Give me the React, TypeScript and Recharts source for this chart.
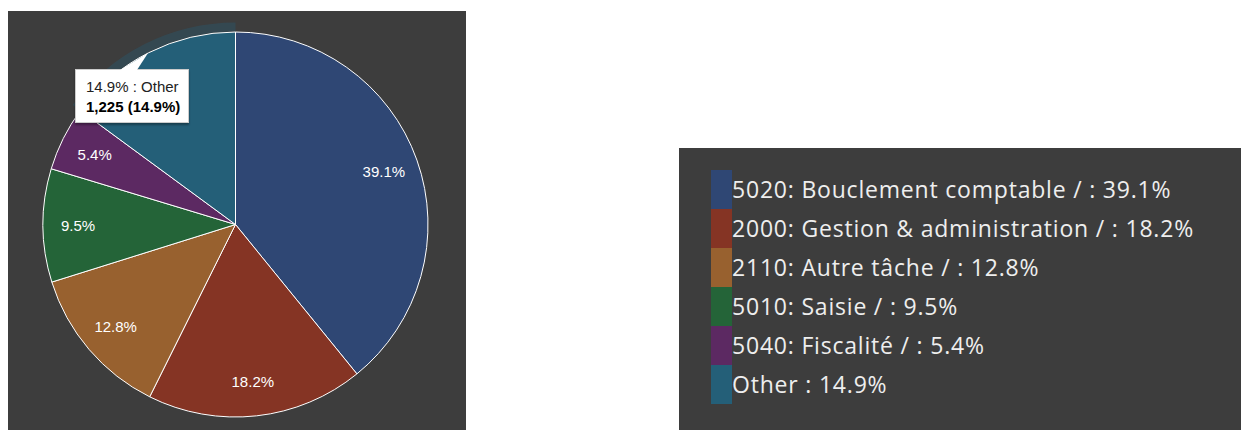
import React from "react";
import { PieChart, Pie, Cell, Legend, Tooltip } from "recharts";

const categories = [
  "5020: Bouclement comptable /",
  "2000: Gestion & administration /",
  "2110: Autre tâche /",
  "5010: Saisie /",
  "5040: Fiscalité /",
  "Other",
];
const shortNames = ["5020", "2000", "2110", "5010", "5040", "Other"];
const values = [3214, 1496, 1052, 781, 444, 1225];
const pctLabels = ["39.1%", "18.2%", "12.8%", "9.5%", "5.4%", "14.9%"];
const colors = ["#2F4774", "#853424", "#98612F", "#246438", "#5C2962", "#245F78"];
const hoveredIndex = 5;

const data = categories.map((name, i) => ({
  name,
  short: shortNames[i],
  value: values[i],
  pct: pctLabels[i],
}));

const RADIAN = Math.PI / 180;

const renderLabel = (props: any) => {
  const { cx, cy, midAngle, outerRadius, index } = props;
  const r = outerRadius * 0.818;
  const x = cx + r * Math.cos(-midAngle * RADIAN);
  const y = cy + r * Math.sin(-midAngle * RADIAN);
  return (
    <text
      x={x}
      y={y}
      fill="#ffffff"
      textAnchor="middle"
      dominantBaseline="central"
      fontFamily="'Liberation Sans', Arial, sans-serif"
      fontSize={15}
    >
      {pctLabels[index]}
    </text>
  );
};

const LegendContent = () => (
  <div style={{ padding: "22px 0 0 32px", boxSizing: "border-box" }}>
    {data.map((d, i) => (
      <div key={d.name} style={{ display: "flex", alignItems: "center", height: 39 }}>
        <div style={{ width: 21, height: 39, background: colors[i], flex: "none" }} />
        <span
          style={{
            fontFamily: "'Open Sans', sans-serif",
            fontSize: 23,
            letterSpacing: "0.8px",
            color: "#eeeeee",
            whiteSpace: "nowrap",
            lineHeight: "39px",
          }}
        >
          {d.name} : {d.pct}
        </span>
      </div>
    ))}
  </div>
);

const TooltipContent = (props: any) => {
  const { active, payload } = props;
  if (!active || !payload || !payload.length) return null;
  const p = payload[0].payload;
  return (
    <div style={{ position: "relative" }}>
      <svg
        width={40}
        height={18}
        style={{ position: "absolute", left: 44, top: -16, overflow: "visible" }}
      >
        <polygon points="1,17 18,17 29,0" fill="#ffffff" />
      </svg>
      <div
        style={{
          background: "#ffffff",
          border: "1px solid #cccccc",
          boxShadow: "0 2px 2px rgba(0,0,0,0.35)",
          width: 114,
          height: 54,
          padding: "7px 0 0 10px",
          boxSizing: "border-box",
          fontFamily: "'Liberation Sans', Arial, sans-serif",
          fontSize: 15,
          lineHeight: "20px",
          color: "#222222",
          whiteSpace: "nowrap",
        }}
      >
        <div>
          {p.pct} : {p.short}
        </div>
        <div style={{ fontWeight: "bold", color: "#000000" }}>
          {p.value.toLocaleString("en-US")} ({p.pct})
        </div>
      </div>
    </div>
  );
};

export default function App() {
  return (
    <div
      style={{
        position: "absolute",
        left: 0,
        top: 0,
        width: 1241,
        height: 430,
        background: "#ffffff",
        overflow: "hidden",
      }}
    >
      <div
        style={{
          position: "absolute",
          left: 8,
          top: 11,
          width: 458,
          height: 419,
          background: "#3D3D3D",
        }}
      />
      <div style={{ position: "absolute", left: 0, top: 0 }}>
        <PieChart width={1241} height={430} margin={{ top: 0, right: 0, bottom: 0, left: 0 }}>
          <Pie
            data={data}
            dataKey="value"
            nameKey="name"
            cx={235.5}
            cy={224.5}
            innerRadius={193}
            outerRadius={202}
            startAngle={90}
            endAngle={-270}
            stroke="none"
            legendType="none"
            isAnimationActive={false}
            tooltipType="none"
          >
            {data.map((d, i) => (
              <Cell
                key={"halo-" + d.name}
                fill={i === hoveredIndex ? colors[i] : "none"}
                fillOpacity={0.35}
              />
            ))}
          </Pie>
          <Pie
            data={data}
            dataKey="value"
            nameKey="name"
            cx={235.5}
            cy={224.5}
            outerRadius={192.5}
            startAngle={90}
            endAngle={-270}
            stroke="#ffffff"
            strokeWidth={1}
            label={renderLabel}
            labelLine={false}
            isAnimationActive={false}
          >
            {data.map((d, i) => (
              <Cell key={d.name} fill={colors[i]} />
            ))}
          </Pie>
          <Tooltip
            content={<TooltipContent />}
            defaultIndex={hoveredIndex}
            active={true}
            position={{ x: 75, y: 69 }}
            isAnimationActive={false}
            wrapperStyle={{ outline: "none" }}
          />
          <Legend
            layout="vertical"
            align="center"
            verticalAlign="middle"
            content={<LegendContent />}
            wrapperStyle={{
              position: "absolute",
              left: 679,
              top: 148,
              width: 562,
              height: 282,
              background: "#3D3D3D",
            }}
          />
        </PieChart>
      </div>
    </div>
  );
}
